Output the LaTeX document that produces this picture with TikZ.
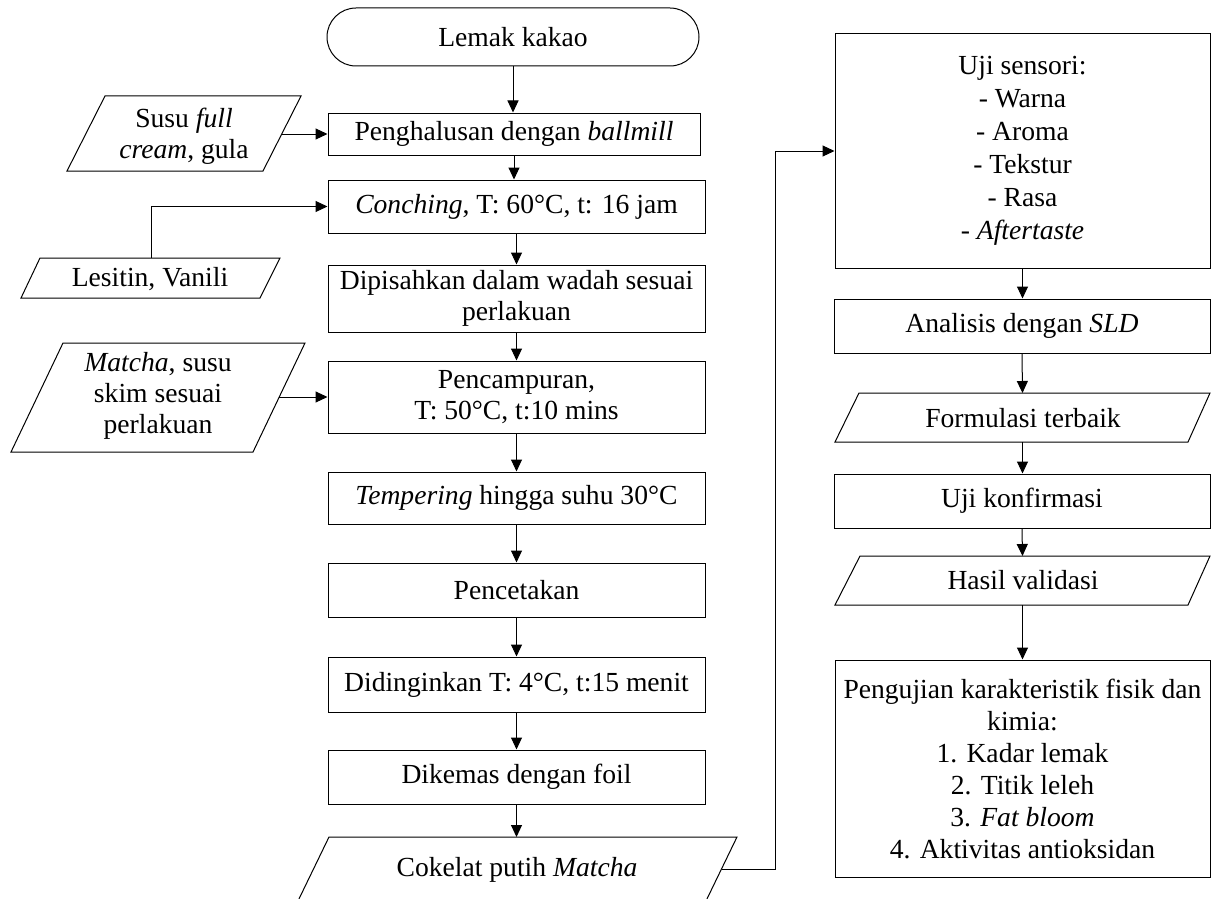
\documentclass[tikz,border=0pt]{standalone}
\usepackage{fontspec}
\setmainfont{Liberation Serif}
\usetikzlibrary{arrows.meta}
\begin{document}
\begin{tikzpicture}[x=1pt,y=-1pt,
  every node/.style={font=\fontsize{27.6}{31}\selectfont, align=center, inner sep=0pt},
  box/.style={draw, line width=1pt, rectangle},
  ln/.style={line width=1pt, line join=miter},
  arr/.style={line width=1pt, -{Triangle[length=12pt,width=11pt]}}]
\useasboundingbox (0,0) rectangle (1211,899);
\clip (0,0) rectangle (1211,899);

% main column
\node[box, rounded corners=29pt, minimum width=372pt, minimum height=58pt] (lemak) at (513,37) {Lemak kakao};
\node[box, minimum width=372pt, minimum height=42pt] (pengh) at (514,134) {Penghalusan dengan \textit{ballmill}};
\node[box, minimum width=377pt, minimum height=53pt] (conch) at (516.5,206.5) {\textit{Conching}, T: 60°C, t: 16 jam};
\node[box, minimum width=377pt, minimum height=67pt] (dipis) at (516.5,298.5) {Dipisahkan dalam wadah sesuai\\perlakuan};
\node[box, minimum width=377pt, minimum height=72pt] (pencam) at (516.5,397) {Pencampuran,\\T: 50°C, t:10 mins};
\node[box, minimum width=377pt, minimum height=52pt] (temper) at (516.5,498) {\textit{Tempering} hingga suhu 30°C};
\node[box, minimum width=377pt, minimum height=54pt] (pencet) at (516.5,590) {Pencetakan};
\node[box, minimum width=377pt, minimum height=55pt] (didin) at (516.5,684.5) {Didinginkan T: 4°C, t:15 menit};
\node[box, minimum width=377pt, minimum height=54pt] (dikem) at (516.5,777) {Dikemas dengan foil};

% cokelat parallelogram
\draw[ln] (329,837) -- (737,837) -- (705,903) -- (297,903) -- cycle;
\node (cokelat) at (517,870) {Cokelat putih \textit{Matcha}};
\coordinate (cokT) at (516.5,837);
\coordinate (cokR) at (721.5,869);
\coordinate (bend) at (775,869);

% left inputs
\draw[ln] (105,96) -- (301,96) -- (263,171) -- (67,171) -- cycle;
\node (susu) at (184,136) {Susu \textit{full}\\\textit{cream}, gula};
\coordinate (susuR) at (282,134);

\draw[ln] (40,258) -- (280,258) -- (260,298) -- (21,298) -- cycle;
\node (lesitin) at (150,279) {Lesitin, Vanili};
\coordinate (lesT) at (151,258);

\draw[ln] (63,343) -- (305,343) -- (253,452) -- (11,452) -- cycle;
\node (matcha) at (158,396) {\textit{Matcha}, susu\\skim sesuai\\perlakuan};
\coordinate (matchaR) at (279,397);

% right column
\node[box, minimum width=375pt, minimum height=234pt, font=\fontsize{27.6}{33}\selectfont] (sensori) at (1022.5,151) {Uji sensori:\\- Warna\\- Aroma\\- Tekstur\\- Rasa\\- \textit{Aftertaste}};
\node[box, minimum width=376pt, minimum height=54pt] (anal) at (1022,326) {Analisis dengan \textit{SLD}};

\draw[ln] (859,393) -- (1210,393) -- (1188,442) -- (835,442) -- cycle;
\node (form) at (1023,418) {Formulasi terbaik};
\coordinate (formT) at (1022.5,393);
\coordinate (formB) at (1022.5,442);

\node[box, minimum width=376pt, minimum height=54pt] (konf) at (1022,501) {Uji konfirmasi};

\draw[ln] (860,556) -- (1210,556) -- (1188,605) -- (835,605) -- cycle;
\node (hasil) at (1023,580) {Hasil validasi};
\coordinate (hasilT) at (1022.5,556);
\coordinate (hasilB) at (1022.5,605);

\node[box, minimum width=375pt, minimum height=217pt, font=\fontsize{27.6}{32}\selectfont] (uji) at (1022.5,768.5) {Pengujian karakteristik fisik dan\\kimia:\\1. Kadar lemak\\2. Titik leleh\\3. \textit{Fat bloom}\\4. Aktivitas antioksidan};

% connectors main column
\draw[arr] (lemak.south) -- (lemak.south |- pengh.north);
\draw[arr] (pengh.south) -- (pengh.south |- conch.north);
\draw[arr] (conch.south) -- (dipis.north);
\draw[arr] (dipis.south) -- (pencam.north);
\draw[arr] (pencam.south) -- (temper.north);
\draw[arr] (temper.south) -- (pencet.north);
\draw[arr] (pencet.south) -- (didin.north);
\draw[arr] (didin.south) -- (dikem.north);
\draw[arr] (dikem.south) -- (cokT);

% side inputs
\draw[arr] (susuR) -- (susuR -| pengh.west);
\draw[arr] (lesT) |- (conch.west);
\draw[arr] (matchaR) -- (matchaR -| pencam.west);

% to right column
\draw[arr] (cokR) -- (bend) |- (sensori.west);

% right column connectors
\draw[arr] (sensori.south) -- (sensori.south |- anal.north);
\draw[arr] (anal.south) -- (formT);
\draw[arr] (formB) -- (formB |- konf.north);
\draw[arr] (konf.south) -- (hasilT);
\draw[arr] (hasilB) -- (hasilB |- uji.north);
\end{tikzpicture}
\end{document}
